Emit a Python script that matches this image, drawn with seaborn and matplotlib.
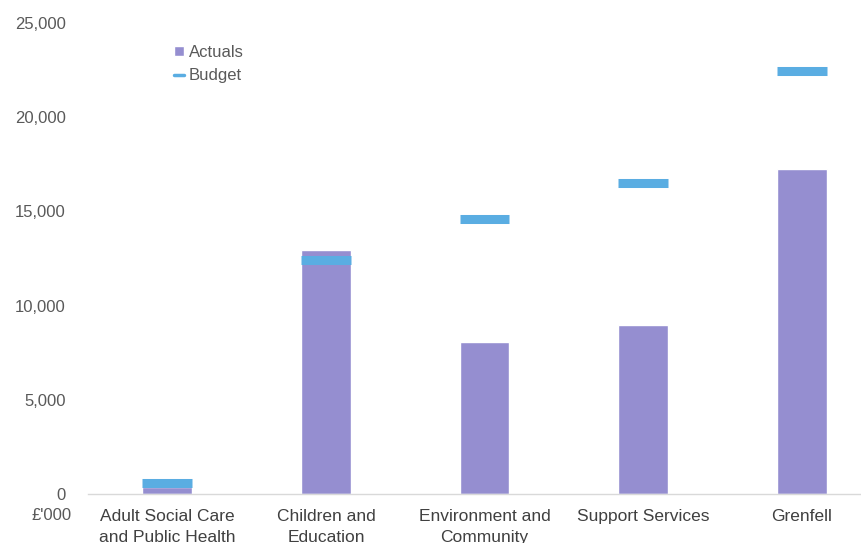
import matplotlib
matplotlib.use("Agg")
import matplotlib.pyplot as plt
import seaborn as sns
from matplotlib.lines import Line2D
from matplotlib.patches import Patch

# Data
categories = ["Adult Social Care\nand Public Health", "Children and\nEducation",
              "Environment and\nCommunity", "Support Services", "Grenfell"]
actuals = [350, 12950, 8070, 8970, 17250]
budget = [580, 12420, 14620, 16510, 22430]
y_ticks = [0, 5000, 10000, 15000, 20000, 25000]

purple = "#958ed0"
blue = "#5aade2"

sns.set_theme(style="white")
plt.rcParams['font.family'] = ['Liberation Sans', 'DejaVu Sans']

fig = plt.figure(figsize=(8.61, 5.43), dpi=100)
ax = fig.add_axes([88 / 861, 49 / 543, (881 - 88) / 861, 471 / 543])

bar_w = 0.315
sns.barplot(x=categories, y=actuals, color=purple, width=bar_w, ax=ax, saturation=1)

# budget markers as short thick dashes over each category
xs = list(range(len(categories)))
ax.hlines(budget, [x - bar_w / 2 for x in xs], [x + bar_w / 2 for x in xs],
          colors=blue, linewidth=6.5)

ax.set_ylim(0, 25000)
ax.set_xlim(-0.5, len(categories) - 0.5)
ax.set_yticks(y_ticks)
ax.set_yticklabels([f"{v:,}" for v in y_ticks])
ax.tick_params(axis="y", length=0, pad=16, labelsize=12, labelcolor="#595959")
ax.tick_params(axis="x", length=0, pad=11, labelsize=12.5, labelcolor="#404040")
for lbl in ax.get_xticklabels():
    lbl.set_linespacing(1.45)

for s in ["top", "right", "left"]:
    ax.spines[s].set_visible(False)
ax.spines["bottom"].set_color("#d9d9d9")
ax.spines["bottom"].set_linewidth(1)
ax.set_xlabel("")
ax.set_ylabel("")

fig.text(72 / 861, 1 - 515 / 543, "£'000", ha="right", va="center",
         fontsize=12, color="#595959")

handles = [Patch(facecolor=purple, label="Actuals"),
           Line2D([0], [0], color=blue, linewidth=2.5, label="Budget")]
ax.legend(handles=handles, loc="upper left", bbox_to_anchor=(0.09, 0.985),
          frameon=False, fontsize=12, handlelength=0.55, handleheight=0.6,
          handletextpad=0.3, labelspacing=0.5, labelcolor="#595959")

fig.savefig("out.png", dpi=100)
